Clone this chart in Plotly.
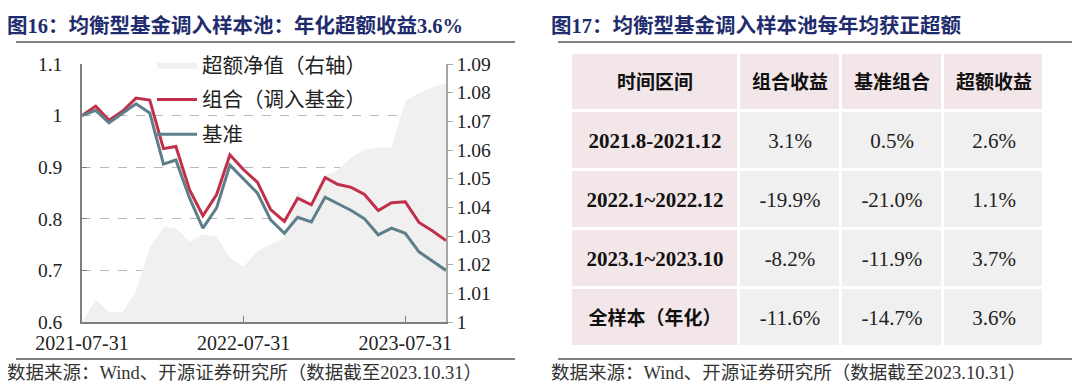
import pandas as pd
import plotly.graph_objects as go

# ---------------- data: left chart ----------------
dates = pd.date_range("2021-07-31", periods=28, freq="ME").strftime("%Y-%m-%d").tolist()
combo = [1.000, 1.018, 0.991, 1.009, 1.034, 1.030, 0.936, 0.940, 0.856, 0.806,
         0.847, 0.924, 0.895, 0.871, 0.818, 0.795, 0.840, 0.827, 0.880, 0.867,
         0.861, 0.847, 0.816, 0.831, 0.833, 0.793, 0.777, 0.758]
bench = [1.000, 1.010, 0.986, 1.005, 1.023, 1.005, 0.906, 0.914, 0.840, 0.782,
         0.821, 0.904, 0.878, 0.850, 0.798, 0.772, 0.803, 0.794, 0.842, 0.829,
         0.816, 0.800, 0.769, 0.782, 0.772, 0.736, 0.719, 0.700]
excess = [1.000, 1.0078, 1.0035, 1.0035, 1.0107, 1.0258, 1.0331, 1.0328, 1.0281, 1.0305,
          1.0299, 1.0223, 1.0194, 1.0247, 1.0270, 1.0293, 1.0456, 1.0409, 1.0508, 1.0531,
          1.0574, 1.0601, 1.0609, 1.0609, 1.0770, 1.0799, 1.0819, 1.0834]
x_ticks = ["2021-07-31", "2022-07-31", "2023-07-31"]

# ---------------- data: right table ----------------
header = ["时间区间", "组合收益", "基准组合", "超额收益"]
periods = ["2021.8-2021.12", "2022.1~2022.12", "2023.1~2023.10", "全样本（年化）"]
ret_combo = ["3.1%", "-19.9%", "-8.2%", "-11.6%"]
ret_bench = ["0.5%", "-21.0%", "-11.9%", "-14.7%"]
ret_excess = ["2.6%", "1.1%", "3.7%", "3.6%"]

W, H = 1080, 386
SERIF = "Times New Roman, Liberation Serif, Noto Sans CJK SC"
CJK = "Times New Roman, Liberation Serif, Noto Sans CJK SC"
TITLE_C = "#1f2d6e"
RED = "#c1304a"
BLUE = "#5e7e8a"
AREA = "#f0f0f0"


def px_x(v):
    return v / W


def px_y(v):
    return 1 - v / H


fig = go.Figure()

# area (primary y, right side)
fig.add_trace(go.Scatter(x=dates, y=excess, name="超额净值（右轴）", mode="lines",
                         line=dict(width=0, color=AREA), fill="tozeroy", fillcolor=AREA,
                         xaxis="x", yaxis="y", legendgroup="a"))
# lines (overlay y2, left side)
fig.add_trace(go.Scatter(x=dates, y=combo, name="组合（调入基金）", mode="lines",
                         line=dict(width=3, color=RED), xaxis="x", yaxis="y2", legendgroup="b"))
fig.add_trace(go.Scatter(x=dates, y=bench, name="基准", mode="lines",
                         line=dict(width=3, color=BLUE), xaxis="x", yaxis="y2", legendgroup="c"))

# ---------------- table via heatmaps ----------------
col_edges = [563, 731, 833, 935, 1036]
row_edges = [45, 103, 162, 221, 280, 339]
PINK = "#f3e6e8"
GREY = "#f0f0f0"


def const_scale(c):
    return [[0, c], [1, c]]


def first_col_label(p):
    # CJK label rendered slightly smaller than the serif date ranges
    if any("\u4e00" <= ch <= "\u9fff" for ch in p):
        return "<b><span style='font-size:19px'>%s</span></b>" % p
    return "<b>%s</b>" % p


fig.add_trace(go.Heatmap(
    z=[[0] * 4], x=col_edges, y=row_edges[:2], text=[["<b>%s</b>" % h for h in header]],
    texttemplate="%{text}", textfont=dict(family="Noto Sans CJK SC", size=19, color="#111"),
    colorscale=const_scale(PINK), showscale=False, xgap=3, ygap=3, hoverinfo="skip",
    xaxis="x3", yaxis="y3"))
fig.add_trace(go.Heatmap(
    z=[[0] for _ in periods], x=col_edges[:2], y=row_edges[1:],
    text=[[first_col_label(p)] for p in periods],
    texttemplate="%{text}", textfont=dict(family=SERIF, size=21, color="#111"),
    colorscale=const_scale(PINK), showscale=False, xgap=3, ygap=3, hoverinfo="skip",
    xaxis="x3", yaxis="y3"))
fig.add_trace(go.Heatmap(
    z=[[0, 0, 0] for _ in periods], x=col_edges[1:], y=row_edges[1:],
    text=[[a, b, c] for a, b, c in zip(ret_combo, ret_bench, ret_excess)],
    texttemplate="%{text}", textfont=dict(family=SERIF, size=21, color="#222"),
    colorscale=const_scale(GREY), showscale=False, xgap=3, ygap=3, hoverinfo="skip",
    xaxis="x3", yaxis="y3"))

tickfont = dict(family=SERIF, size=20, color="#222")
ytickfont = dict(family=SERIF, size=19.5, color="#222")

fig.update_layout(
    width=W, height=H, margin=dict(l=0, r=0, t=0, b=0, autoexpand=False),
    paper_bgcolor="white", plot_bgcolor="rgba(0,0,0,0)",
    xaxis=dict(type="date", domain=[px_x(74), px_x(438)], range=[dates[0], dates[-1]],
               tickvals=x_ticks, ticktext=x_ticks, tickfont=tickfont,
               showline=True, linecolor="#7f7f7f", linewidth=1.5, ticks="inside",
               ticklen=6, tickcolor="#7f7f7f", showgrid=False, zeroline=False,
               anchor="y2", ticklabelstandoff=2, automargin=False),
    yaxis=dict(domain=[px_y(314), px_y(56)], range=[1.0, 1.09], dtick=0.01, tick0=1.0,
               side="right", anchor="x", showgrid=False, zeroline=False,
               showline=True, linecolor="#a6a6a6", linewidth=1.5,
               ticks="outside", ticklen=5, tickcolor="#a6a6a6", tickfont=ytickfont,
               ticklabelstandoff=0, automargin=False),
    yaxis2=dict(overlaying="y", side="left", anchor="x", range=[0.6, 1.1], dtick=0.1, tick0=0.6,
                showgrid=True, gridcolor="#b8b8b8", griddash="dash", gridwidth=1,
                zeroline=False, showline=True, linecolor="#7f7f7f", linewidth=1.5,
                ticks="inside", ticklen=5, tickcolor="#7f7f7f", tickfont=ytickfont,
                ticklabelstandoff=14, automargin=False),
    xaxis3=dict(domain=[px_x(col_edges[0]), px_x(col_edges[-1])], range=[col_edges[0], col_edges[-1]],
                visible=False, anchor="y3", automargin=False),
    yaxis3=dict(domain=[px_y(row_edges[-1]), px_y(row_edges[0])], range=[row_edges[-1], row_edges[0]],
                visible=False, anchor="x3", automargin=False),
    showlegend=True,
    legend=dict(x=px_x(144), y=px_y(37), xanchor="left", yanchor="top",
                bgcolor="rgba(0,0,0,0)", font=dict(family=CJK, size=20.5, color="#222"),
                itemwidth=40, tracegroupgap=5, traceorder="grouped"),
)

# titles
fig.add_annotation(text="<b>图16：均衡型基金调入样本池：年化超额收益3.6%</b>", xref="paper", yref="paper",
                   x=px_x(-3), y=px_y(18), xanchor="left", yanchor="middle", showarrow=False,
                   font=dict(family=CJK, size=20.5, color=TITLE_C))
fig.add_annotation(text="<b>图17：均衡型基金调入样本池每年均获正超额</b>", xref="paper", yref="paper",
                   x=px_x(541), y=px_y(18), xanchor="left", yanchor="middle", showarrow=False,
                   font=dict(family=CJK, size=20.5, color=TITLE_C))
src = "数据来源：Wind、开源证券研究所（数据截至2023.10.31）"
for x0 in (-3, 541):
    fig.add_annotation(text=src, xref="paper", yref="paper", x=px_x(x0), y=px_y(365),
                       xanchor="left", yanchor="middle", showarrow=False,
                       font=dict(family=CJK, size=18.5, color="#333"))

for (a, b) in ((8, 507), (550, 1070)):
    for yy in (34, 351):
        fig.add_shape(type="line", xref="paper", yref="paper", x0=px_x(a), x1=px_x(b),
                      y0=px_y(yy), y1=px_y(yy), line=dict(color="#808080", width=1.8))

fig.write_html("out.html")
